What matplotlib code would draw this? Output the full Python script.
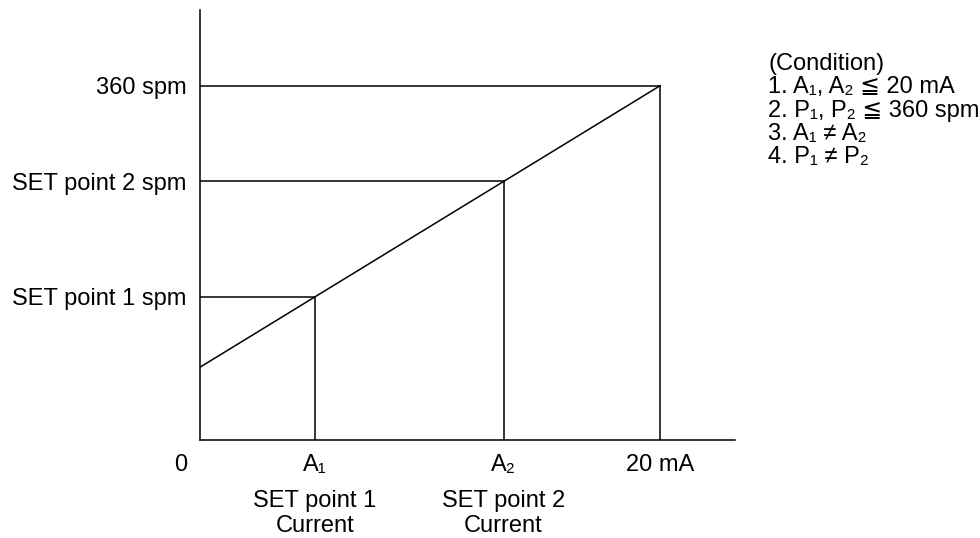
import matplotlib.pyplot as plt

plt.rcParams['font.family'] = ['Liberation Sans', 'DejaVu Sans']

# values (current in mA, speed in spm)
currents = [0, 5.0, 13.2, 20]
speeds = [74, 145.5, 263, 360]
set_x = [5.0, 13.2, 20]
set_y = [145.5, 263, 360]
x_labels = [('A\u2081', 'SET point 1', 'Current'),
            ('A\u2082', 'SET point 2', 'Current'),
            ('20 mA', '', '')]
y_labels = ['SET point 1 spm', 'SET point 2 spm', '360 spm']
conditions = ['(Condition)',
              '1. A\u2081, A\u2082 \u2266 20 mA',
              '2. P\u2081, P\u2082 \u2266 360 spm',
              '3. A\u2081 \u2260 A\u2082',
              '4. P\u2081 \u2260 P\u2082']

W, H = 980, 538
fig = plt.figure(figsize=(W / 100, H / 100), dpi=100)
ax = fig.add_axes([200 / W, 98 / H, 535 / W, 430 / H])
ax.set_xlim(0, 23.26)
ax.set_ylim(0, 437)
ax.spines['top'].set_visible(False)
ax.spines['right'].set_visible(False)
for s in ['left', 'bottom']:
    ax.spines[s].set_linewidth(1.1)

# main characteristic line
ax.plot([currents[0], currents[-1]], [speeds[0], speeds[-1]], color='black', lw=1.1)

# guide lines to the set points
for x, y in zip(set_x, set_y):
    ax.plot([0, x], [y, y], color='black', lw=1.1)
    ax.plot([x, x], [0, y], color='black', lw=1.1)

ax.set_xticks([])
ax.set_yticks(set_y)
ax.set_yticklabels(y_labels, fontsize=17)
ax.tick_params(axis='y', length=0, pad=9.5)

# x labels below the axis
ax.annotate('0', xy=(0, 0), xytext=(-19, -25), textcoords='offset pixels',
            ha='center', va='center', fontsize=17)
for x, lab in zip(set_x, x_labels):
    for txt, off in zip(lab, [-25, -61, -86]):
        if txt:
            ax.annotate(txt, xy=(x, 0), xytext=(0, off), textcoords='offset pixels',
                        ha='center', va='center', fontsize=17)

# condition notes
for i, c in enumerate(conditions):
    fig.text(768 / W, 1 - (64 + i * 23.3) / H, c, ha='left', va='center', fontsize=17)

fig.savefig('out.png', dpi=100)
